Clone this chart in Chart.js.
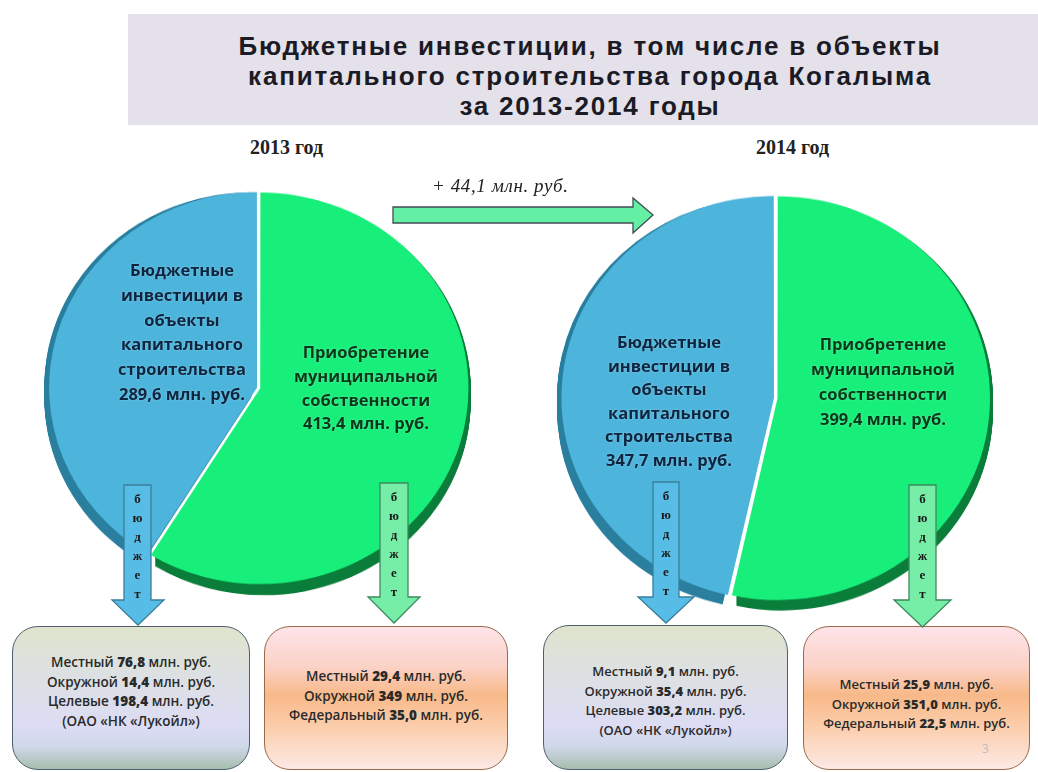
<!DOCTYPE html>
<html lang="ru">
<head>
<meta charset="utf-8">
<script src="https://cdn.jsdelivr.net/npm/chart.js@4.4.1/dist/chart.umd.min.js"></script>
<style>
  html,body{margin:0;padding:0;background:#fff;}
  #page{position:relative;width:1038px;height:772px;overflow:hidden;background:#fff;font-family:"Open Sans","Liberation Sans",sans-serif;}
  #titleBox{position:absolute;left:128px;top:14px;width:910px;height:111px;background:#e4e1ea;}
  #title{position:absolute;left:128px;top:31px;width:924px;text-align:center;font-family:"Liberation Sans",Arial,sans-serif;font-weight:bold;font-size:26px;letter-spacing:1.8px;line-height:30px;color:#1b1b26;}
  .year{position:absolute;font-family:"Liberation Serif","Times New Roman",serif;font-weight:bold;font-size:20px;color:#222;}
  canvas{position:absolute;}
  .plabel{position:absolute;text-align:center;font-weight:bold;font-size:16.5px;white-space:nowrap;z-index:3;}
  .box{position:absolute;border-radius:26px;box-sizing:border-box;z-index:1;}
  .btext{position:absolute;left:0;right:0;text-align:center;font-size:13.5px;line-height:19.6px;color:#2a2a2a;font-weight:600;white-space:nowrap;}
  .btext b{font-weight:800;}
  #delta{position:absolute;left:432px;top:175px;font-family:"Liberation Serif","Times New Roman",serif;font-style:italic;font-size:19px;letter-spacing:0.6px;color:#222;z-index:4;}
  #arrows{position:absolute;left:0;top:0;z-index:2;}
  .vtext{position:absolute;width:30px;text-align:center;font-family:"Liberation Serif",serif;font-weight:bold;font-size:13px;line-height:19px;color:#1a1a1a;z-index:3;}
  #pnum{position:absolute;left:982px;top:740px;font-size:12px;color:#bdbdbd;z-index:3;}
</style>
</head>
<body>
<div id="page">
  <div id="titleBox"></div>
  <div id="title"></div>
  <div class="year" id="y0" style="left:250px;top:136px;"></div>
  <div class="year" id="y1" style="left:756px;top:136px;"></div>
  <canvas id="pie2013" width="460" height="450" style="left:29px;top:163px;transform:scaleY(0.94);"></canvas>
  <canvas id="pie2014" width="460" height="450" style="left:546px;top:173px;transform:scaleY(0.95);"></canvas>
  <svg id="arrows" width="1038" height="772"></svg>
  <div id="delta"></div>
  <div id="pnum">3</div>
</div>
<script>
// ---- data ----
const title = ['Бюджетные инвестиции, в том числе в объекты', 'капитального строительства  города Когалыма', 'за 2013-2014  годы'];
const years = ['2013 год', '2014 год'];
const categories = ['Приобретение муниципальной собственности', 'Бюджетные инвестиции в объекты капитального строительства'];
const values2013 = [413.4, 289.6];
const values2014 = [399.4, 347.7];
const deltaLabel = '+ 44,1 млн. руб.';
const sourceNames = ['Местный', 'Окружной', 'Целевые', 'Федеральный'];
const capital2013 = ['76,8', '14,4', '198,4'];
const property2013 = ['29,4', '349', '35,0'];
const capital2014 = ['9,1', '35,4', '303,2'];
const property2014 = ['25,9', '351,0', '22,5'];
const lukoil = '(ОАО «НК «Лукойл»)';

// ---- styles ----
const GREEN = '#18ef7b', BLUE = '#4db5dc';
const GREEN_SIDE = '#0a7d3a', BLUE_SIDE = '#2a7f9f';

const fmt = v => v.toFixed(1).replace('.', ',');

document.getElementById('title').innerHTML = title.join('<br>');
document.getElementById('y0').textContent = years[0];
document.getElementById('y1').textContent = years[1];
document.getElementById('delta').textContent = deltaLabel;

// 3D depth plugin: draws darker copies of each slice shifted down
const depthPlugin = {
  id: 'depth',
  beforeDatasetsDraw(chart, args, opts) {
    const ctx = chart.ctx;
    const meta = chart.getDatasetMeta(0);
    const sides = opts.colors;
    meta.data.forEach((el, i) => {
      const p = el.getProps(['x', 'y', 'startAngle', 'endAngle', 'outerRadius'], true);
      const off = el.options.offset || 0;
      const mid = (p.startAngle + p.endAngle) / 2;
      const cx = p.x + Math.cos(mid) * off, cy = p.y + Math.sin(mid) * off;
      ctx.save();
      ctx.fillStyle = sides[i];
      for (let d = 1; d <= opts.depth; d++) {
        ctx.beginPath();
        ctx.moveTo(cx, cy + d);
        ctx.arc(cx, cy + d, p.outerRadius, p.startAngle, p.endAngle);
        ctx.closePath();
        ctx.fill();
      }
      ctx.restore();
    });
  }
};

function makePie(id, values, radius, offsets) {
  return new Chart(document.getElementById(id), {
    type: 'pie',
    data: {
      labels: categories,
      datasets: [{
        data: values,
        backgroundColor: [GREEN, BLUE],
        borderWidth: 0,
        offset: offsets
      }]
    },
    options: {
      responsive: false,
      animation: false,
      radius: radius,
      layout: { padding: 0 },
      events: [],
      plugins: {
        legend: { display: false },
        tooltip: { enabled: false },
        depth: { depth: 12, colors: [GREEN_SIDE, BLUE_SIDE] }
      }
    },
    plugins: [depthPlugin]
  });
}
makePie('pie2013', values2013, 207, [5, 8]);
makePie('pie2014', values2014, 211, [6, 8]);

// ---- pie labels ----
function addLabel(lines, x, yTop, lh, color) {
  const d = document.createElement('div');
  d.className = 'plabel';
  d.style.left = (x - 100) + 'px';
  d.style.width = '200px';
  d.style.top = yTop + 'px';
  d.style.lineHeight = lh + 'px';
  d.style.color = color;
  d.style.textShadow = '0 0 2px rgba(255,255,255,0.35)';
  d.innerHTML = lines.join('<br>');
  document.getElementById('page').appendChild(d);
}
const capLines = v => ['Бюджетные', 'инвестиции в', 'объекты', 'капитального', 'строительства', fmt(v) + ' млн. руб.'];
const propLines = v => ['Приобретение', 'муниципальной', 'собственности', fmt(v) + ' млн. руб.'];
addLabel(capLines(values2013[1]), 182, 258, 24.8, '#0e2540');
addLabel(propLines(values2013[0]), 366, 340, 23.8, '#08391a');
addLabel(capLines(values2014[1]), 669, 330, 23.6, '#0e2540');
addLabel(propLines(values2014[0]), 883, 331, 25, '#08391a');

// ---- arrows (decorative) ----
const svg = document.getElementById('arrows');
function poly(points, fill, stroke) {
  const p = document.createElementNS('http://www.w3.org/2000/svg', 'polygon');
  p.setAttribute('points', points.map(a => a.join(',')).join(' '));
  p.setAttribute('fill', fill);
  p.setAttribute('stroke', stroke);
  p.setAttribute('stroke-width', '1.3');
  svg.appendChild(p);
}
// horizontal arrow
poly([[393,207],[633,207],[633,198],[653,215],[633,233],[633,223],[393,223]], '#63efa4', '#444a55');
// down arrows
function down(x1, x2, top, hy, hl, hr, ty, fill, stroke) {
  poly([[x1,top],[x2,top],[x2,hy],[hr,hy],[(hl+hr)/2,ty],[hl,hy],[x1,hy]], fill, stroke);
  const t = document.createElement('div');
  t.className = 'vtext';
  t.style.left = ((x1 + x2) / 2 - 15) + 'px';
  t.style.top = (top + 4) + 'px';
  t.innerHTML = 'бюджет'.split('').join('<br>');
  document.getElementById('page').appendChild(t);
}
down(124, 151, 485, 600, 112, 164, 625, '#58bde6', '#3a7d9c');
down(380, 408, 483, 597, 368, 420, 623, '#76eea8', '#3d8a5c');
down(653, 679, 482, 597, 638, 694, 623, '#58bde6', '#3a7d9c');
down(909, 936, 485, 600, 894, 951, 627, '#76eea8', '#3d8a5c');

// ---- boxes ----
function box(x, y, w, h, kind, lines, textTop, fs) {
  const b = document.createElement('div');
  b.className = 'box';
  Object.assign(b.style, { left: x + 'px', top: y + 'px', width: w + 'px', height: h + 'px' });
  if (kind === 'blue') {
    b.style.background = 'linear-gradient(to bottom,#dfe4cd 0%,#dde0e3 35%,#dcdcf4 70%,#d0d8ea 84%,#a7bead 100%)';
    b.style.border = '1.5px solid #4e5f70';
  } else {
    b.style.background = 'linear-gradient(to bottom,#fde3ea 0%,#fbd2c6 28%,#f8b989 48%,#fbcdab 70%,#fde9e5 100%)';
    b.style.border = '1.5px solid #9a6a4a';
  }
  const t = document.createElement('div');
  t.className = 'btext';
  t.style.top = textTop + 'px';
  if (fs) t.style.fontSize = fs + 'px';
  t.innerHTML = lines.join('<br>');
  b.appendChild(t);
  document.getElementById('page').appendChild(b);
}
const line = (name, v) => name + ' <b>' + v + '</b> млн. руб.';
box(12, 626, 238, 144, 'blue', [
  line(sourceNames[0], capital2013[0]), line(sourceNames[1], capital2013[1]),
  line(sourceNames[2], capital2013[2]), lukoil], 26);
box(264, 626, 244, 144, 'orange', [
  line(sourceNames[0], property2013[0]), line(sourceNames[1], property2013[1]),
  line(sourceNames[3], property2013[2])], 40);
box(543, 625, 245, 145, 'blue', [
  line(sourceNames[0], capital2014[0]), line(sourceNames[1], capital2014[1]),
  line(sourceNames[2], capital2014[2]), lukoil], 36, 13);
box(803, 626, 227, 144, 'orange', [
  line(sourceNames[0], property2014[0]), line(sourceNames[1], property2014[1]),
  line(sourceNames[3], property2014[2])], 48, 13);
</script>
</body>
</html>
